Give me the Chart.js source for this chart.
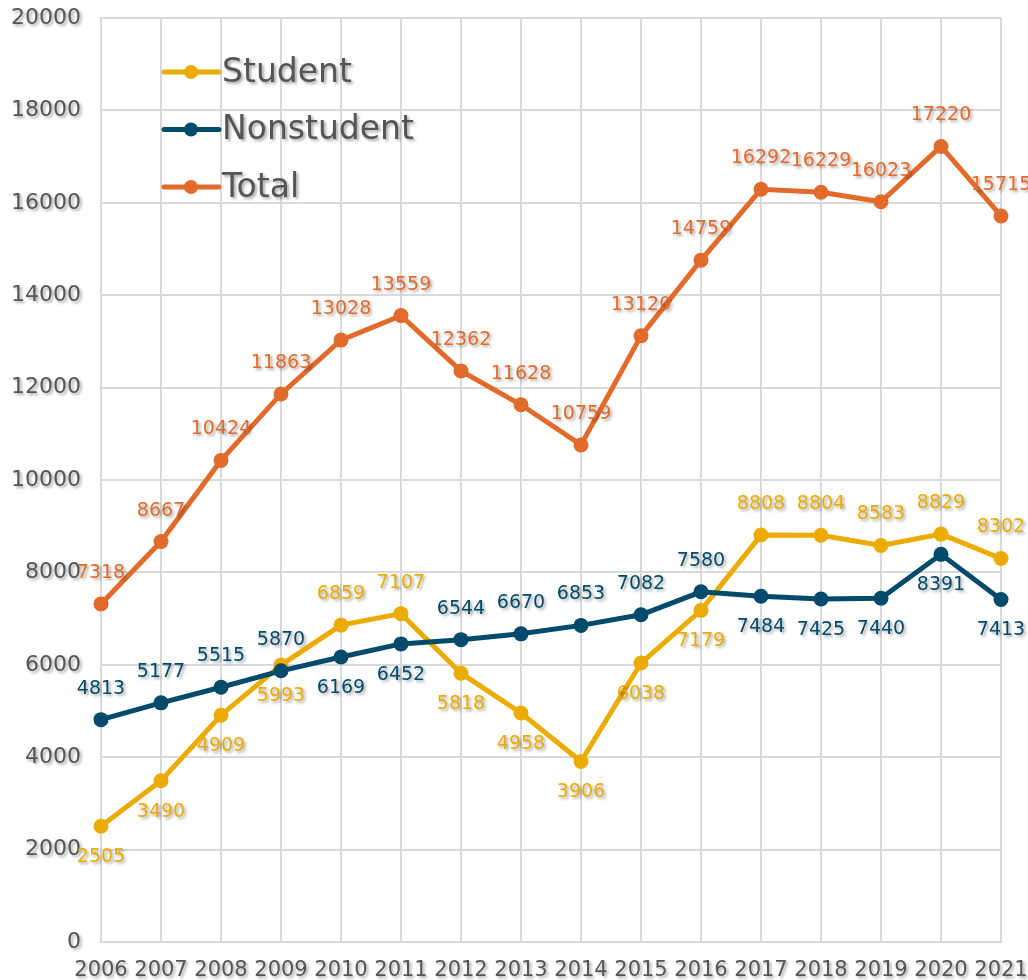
<!DOCTYPE html>
<html>
<head>
<meta charset="utf-8">
<script src="https://cdn.jsdelivr.net/npm/chart.js@4"></script>
<style>
  html, body { margin: 0; padding: 0; background: #fff; }
  #wrap { width: 1028px; height: 980px; }
</style>
</head>
<body>
<div id="wrap"><canvas id="chart" width="1028" height="980"></canvas></div>
<script>
// data
const years = ['2006', '2007', '2008', '2009', '2010', '2011', '2012', '2013', '2014', '2015', '2016', '2017', '2018', '2019', '2020', '2021'];
const student = [2505, 3490, 4909, 5993, 6859, 7107, 5818, 4958, 3906, 6038, 7179, 8808, 8804, 8583, 8829, 8302];
const nonstudent = [4813, 5177, 5515, 5870, 6169, 6452, 6544, 6670, 6853, 7082, 7580, 7484, 7425, 7440, 8391, 7413];
const total = [7318, 8667, 10424, 11863, 13028, 13559, 12362, 11628, 10759, 13120, 14759, 16292, 16229, 16023, 17220, 15715];

// where each value label sits: 1 = above the point, -1 = below
const studentSide = [-1, -1, -1, -1, 1, 1, -1, -1, -1, -1, -1, 1, 1, 1, 1, 1];
const nonstudentSide = [1, 1, 1, 1, -1, -1, 1, 1, 1, 1, 1, -1, -1, -1, -1, -1];
const totalSide = total.map(() => 1);

const FONT = "'DejaVu Sans', sans-serif";
const TEXT_GRAY = '#555555';

function setShadow(ctx) {
    ctx.shadowColor = 'rgba(0,0,0,0.35)';
    ctx.shadowOffsetX = 2;
    ctx.shadowOffsetY = 2;
    ctx.shadowBlur = 3;
}

// tick labels with the same soft shadow as the rest of the text
const tickShadow = {
    id: 'tickShadow',
    afterUpdate(chart) {
        Object.values(chart.scales).forEach(scale => {
            if (scale._shadowWrapped) return;
            const orig = scale.drawLabels;
            scale.drawLabels = function (area) {
                const ctx = this.ctx;
                ctx.save();
                setShadow(ctx);
                orig.call(this, area);
                ctx.restore();
            };
            scale._shadowWrapped = true;
        });
    }
};

// value labels next to each point
const valueLabels = {
    id: 'valueLabels',
    afterDatasetsDraw(chart) {
        const ctx = chart.ctx;
        ctx.save();
        ctx.font = '19px ' + FONT;
        ctx.textAlign = 'center';
        ctx.textBaseline = 'middle';
        setShadow(ctx);
        chart.data.datasets.forEach((ds, i) => {
            const meta = chart.getDatasetMeta(i);
            ctx.fillStyle = ds.borderColor;
            meta.data.forEach((pt, j) => {
                const y = pt.y - ds.sides[j] * 31;
                ctx.fillText(String(ds.data[j]), pt.x, y);
            });
        });
        ctx.restore();
    }
};

// legend inside the plot, top left
const insideLegend = {
    id: 'insideLegend',
    afterDraw(chart) {
        const ctx = chart.ctx;
        ctx.save();
        chart.data.datasets.forEach((ds, i) => {
            const y = 72 + i * 57.5;
            ctx.strokeStyle = ds.borderColor;
            ctx.lineWidth = 5;
            ctx.lineCap = 'round';
            ctx.beginPath();
            ctx.moveTo(164, y);
            ctx.lineTo(219, y);
            ctx.stroke();
            ctx.fillStyle = ds.borderColor;
            ctx.beginPath();
            ctx.arc(191, y, 7, 0, Math.PI * 2);
            ctx.fill();
            ctx.save();
            setShadow(ctx);
            ctx.fillStyle = TEXT_GRAY;
            ctx.font = '33px ' + FONT;
            ctx.textAlign = 'left';
            ctx.textBaseline = 'middle';
            ctx.fillText(ds.label, 222, y + 1);
            ctx.restore();
        });
        ctx.restore();
    }
};

function series(label, data, color, sides, order) {
    return {
        label: label,
        data: data,
        sides: sides,
        order: order,
        borderColor: color,
        backgroundColor: color,
        borderWidth: 5,
        pointRadius: 7.5,
        pointHoverRadius: 7.5,
        pointBackgroundColor: color,
        pointBorderWidth: 0,
        tension: 0,
        clip: false
    };
}

new Chart(document.getElementById('chart'), {
    type: 'line',
    data: {
        labels: years,
        datasets: [
            series('Student', student, '#EBAB00', studentSide, 1),
            series('Nonstudent', nonstudent, '#004A6B', nonstudentSide, 0),
            series('Total', total, '#E26B2C', totalSide, 2)
        ]
    },
    options: {
        responsive: false,
        animation: false,
        layout: { padding: { top: 18, right: 27, left: 0, bottom: 0 } },
        plugins: {
            legend: { display: false },
            tooltip: { enabled: false }
        },
        scales: {
            x: {
                offset: false,
                grid: { color: '#d9d9d9', lineWidth: 2, drawTicks: false },
                border: { color: '#d9d9d9', width: 2 },
                ticks: { color: TEXT_GRAY, font: { family: FONT, size: 21 }, padding: 16, maxRotation: 0, autoSkip: false },
                afterFit: scale => {
                    scale.height = 38;
                    scale.paddingLeft = 0;
                    scale.paddingRight = 0;
                }
            },
            y: {
                min: 0,
                max: 20000,
                grid: { color: '#d9d9d9', lineWidth: 2, drawTicks: false },
                border: { color: '#d9d9d9', width: 2 },
                ticks: {
                    stepSize: 2000,
                    color: TEXT_GRAY,
                    font: { family: FONT, size: 22 },
                    padding: 20,
                    callback: v => String(v)
                },
                afterFit: scale => {
                    scale.width = 101;
                    scale.paddingTop = 0;
                    scale.paddingBottom = 0;
                }
            }
        }
    },
    plugins: [tickShadow, valueLabels, insideLegend]
});
</script>
</body>
</html>
